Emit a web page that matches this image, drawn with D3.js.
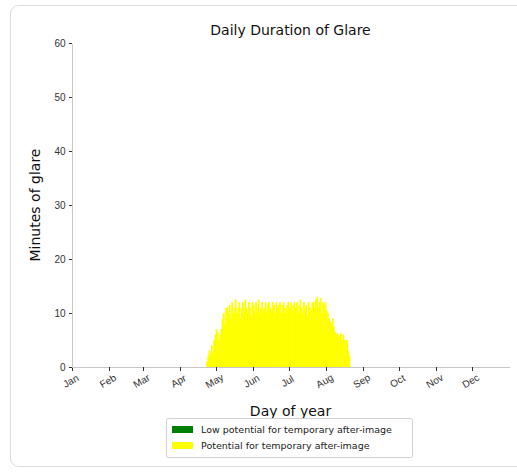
<!DOCTYPE html>
<meta charset="utf-8">
<style>
body {
  margin: 0;
  background-color: #fff;
}
svg {
  font-family: "DejaVu Sans", sans-serif;
}
.axis path,
.axis line {
  stroke: #c8c8c8;
  shape-rendering: crispEdges;
}
.axis .tick line {
  stroke: #333;
}
.axis text {
  font-size: 10px;
  fill: #333;
}
</style>
<body>
<svg width="517" height="472"></svg>

<script src="https://d3js.org/d3.v7.min.js"></script>
<script>

// month labels, ticks at first day of each month
var months = ["Jan","Feb","Mar","Apr","May","Jun","Jul","Aug","Sep","Oct","Nov","Dec"];
var monthStart = [0, 31, 59, 90, 120, 151, 181, 212, 243, 273, 304, 334];
var yTicks = [0, 10, 20, 30, 40, 50, 60];

// first day with glare, then minutes per day (potential for after-image)
var firstDay = 112;
var glareMinutes = [
  1, 2, 3, 2.5, 4, 3, 5, 6, 7, 6.5, 5, 6, 7,
  9, 10, 8, 11,
  11, 10, 11.5, 9, 12, 10, 11, 12.5, 10, 11, 12, 9,
  11, 12, 10.5, 12.5, 11, 10, 12, 11, 9.5, 12, 11.5, 10, 12, 11, 12.5, 10, 11, 12, 10.5, 11,
  12, 10, 11.5, 12, 11, 10.5, 12, 11.5, 10, 12, 11, 11.5, 12, 10, 11.5, 12, 11, 10, 11.5, 12, 11, 12, 10.5, 11.5, 12,
  11, 12, 10, 11.5, 12.5, 11, 10, 12, 11, 11.5, 9.5, 12, 11, 10.5, 12,
  12, 11, 12.5, 13, 11, 12, 12.8, 10, 12, 11.5, 12, 10.5,
  10, 9, 8.5, 8, 9, 7.5,
  6.5, 6, 6.3, 5.5, 6, 6.2, 5, 6,
  5, 4.5, 5, 3, 2
];
var lowMinutes = []; // no low-potential glare

var glare = glareMinutes.map(function(v, i) { return {day: firstDay + i, value: v}; });

var svg = d3.select("svg");

// card border
svg.append("rect")
  .attr("x", 10.5).attr("y", 5.5)
  .attr("width", 530).attr("height", 461)
  .attr("rx", 8)
  .attr("fill", "#fff")
  .attr("stroke", "#dcdcdc");

var margin = {top: 43, left: 72},
    width = 437,
    height = 324;

var x = d3.scaleLinear().domain([0, 365]).range([0, width]);
var y = d3.scaleLinear().domain([0, 60]).range([height, 0]);

var g = svg.append("g")
  .attr("transform", "translate(" + margin.left + "," + margin.top + ")");

var bw = x(1) - x(0);

g.selectAll(".bar")
  .data(glare)
  .enter().append("rect")
  .attr("class", "bar")
  .attr("x", function(d) { return x(d.day); })
  .attr("y", function(d) { return y(d.value); })
  .attr("width", bw + 0.6)
  .attr("height", function(d) { return y(0) - y(d.value); })
  .attr("fill", "#ffff00");

var xAxis = d3.axisBottom(x)
  .tickValues(monthStart)
  .tickSize(3.5)
  .tickSizeOuter(0)
  .tickFormat(function(d, i) { return months[i]; });

var gX = g.append("g")
  .attr("class", "axis")
  .attr("transform", "translate(0," + height + ")")
  .call(xAxis);

gX.selectAll("text")
  .attr("y", 0).attr("dy", 0)
  .attr("transform", "translate(0,17) rotate(-30)")
  .style("text-anchor", "middle");

var yAxis = d3.axisLeft(y)
  .tickValues(yTicks)
  .tickSize(3.5)
  .tickSizeOuter(0);

g.append("g")
  .attr("class", "axis")
  .call(yAxis);

// title and axis labels
svg.append("text")
  .attr("x", margin.left + width / 2)
  .attr("y", 35)
  .attr("text-anchor", "middle")
  .style("font-size", "14px")
  .attr("fill", "#111")
  .text("Daily Duration of Glare");

svg.append("text")
  .attr("transform", "translate(40," + (margin.top + height / 2) + ") rotate(-90)")
  .attr("text-anchor", "middle")
  .style("font-size", "14px")
  .attr("fill", "#111")
  .text("Minutes of glare");

svg.append("text")
  .attr("x", margin.left + width / 2)
  .attr("y", 416)
  .attr("text-anchor", "middle")
  .style("font-size", "14px")
  .attr("fill", "#111")
  .text("Day of year");

// legend
var legendItems = [
  {label: "Low potential for temporary after-image", color: "#008000"},
  {label: "Potential for temporary after-image", color: "#ffff00"}
];

var lg = svg.append("g").attr("transform", "translate(166,418)");
lg.append("rect")
  .attr("x", 0.5).attr("y", 0.5)
  .attr("width", 246).attr("height", 39)
  .attr("rx", 2)
  .attr("fill", "#fff")
  .attr("stroke", "#d0d0d0");

var li = lg.selectAll(".li")
  .data(legendItems)
  .enter().append("g")
  .attr("transform", function(d, i) { return "translate(6," + (8 + i * 16) + ")"; });

li.append("rect")
  .attr("width", 21).attr("height", 7)
  .attr("fill", function(d) { return d.color; });

li.append("text")
  .attr("x", 29).attr("y", 7)
  .style("font-size", "9.5px")
  .attr("fill", "#222")
  .text(function(d) { return d.label; });

</script>
</body>
